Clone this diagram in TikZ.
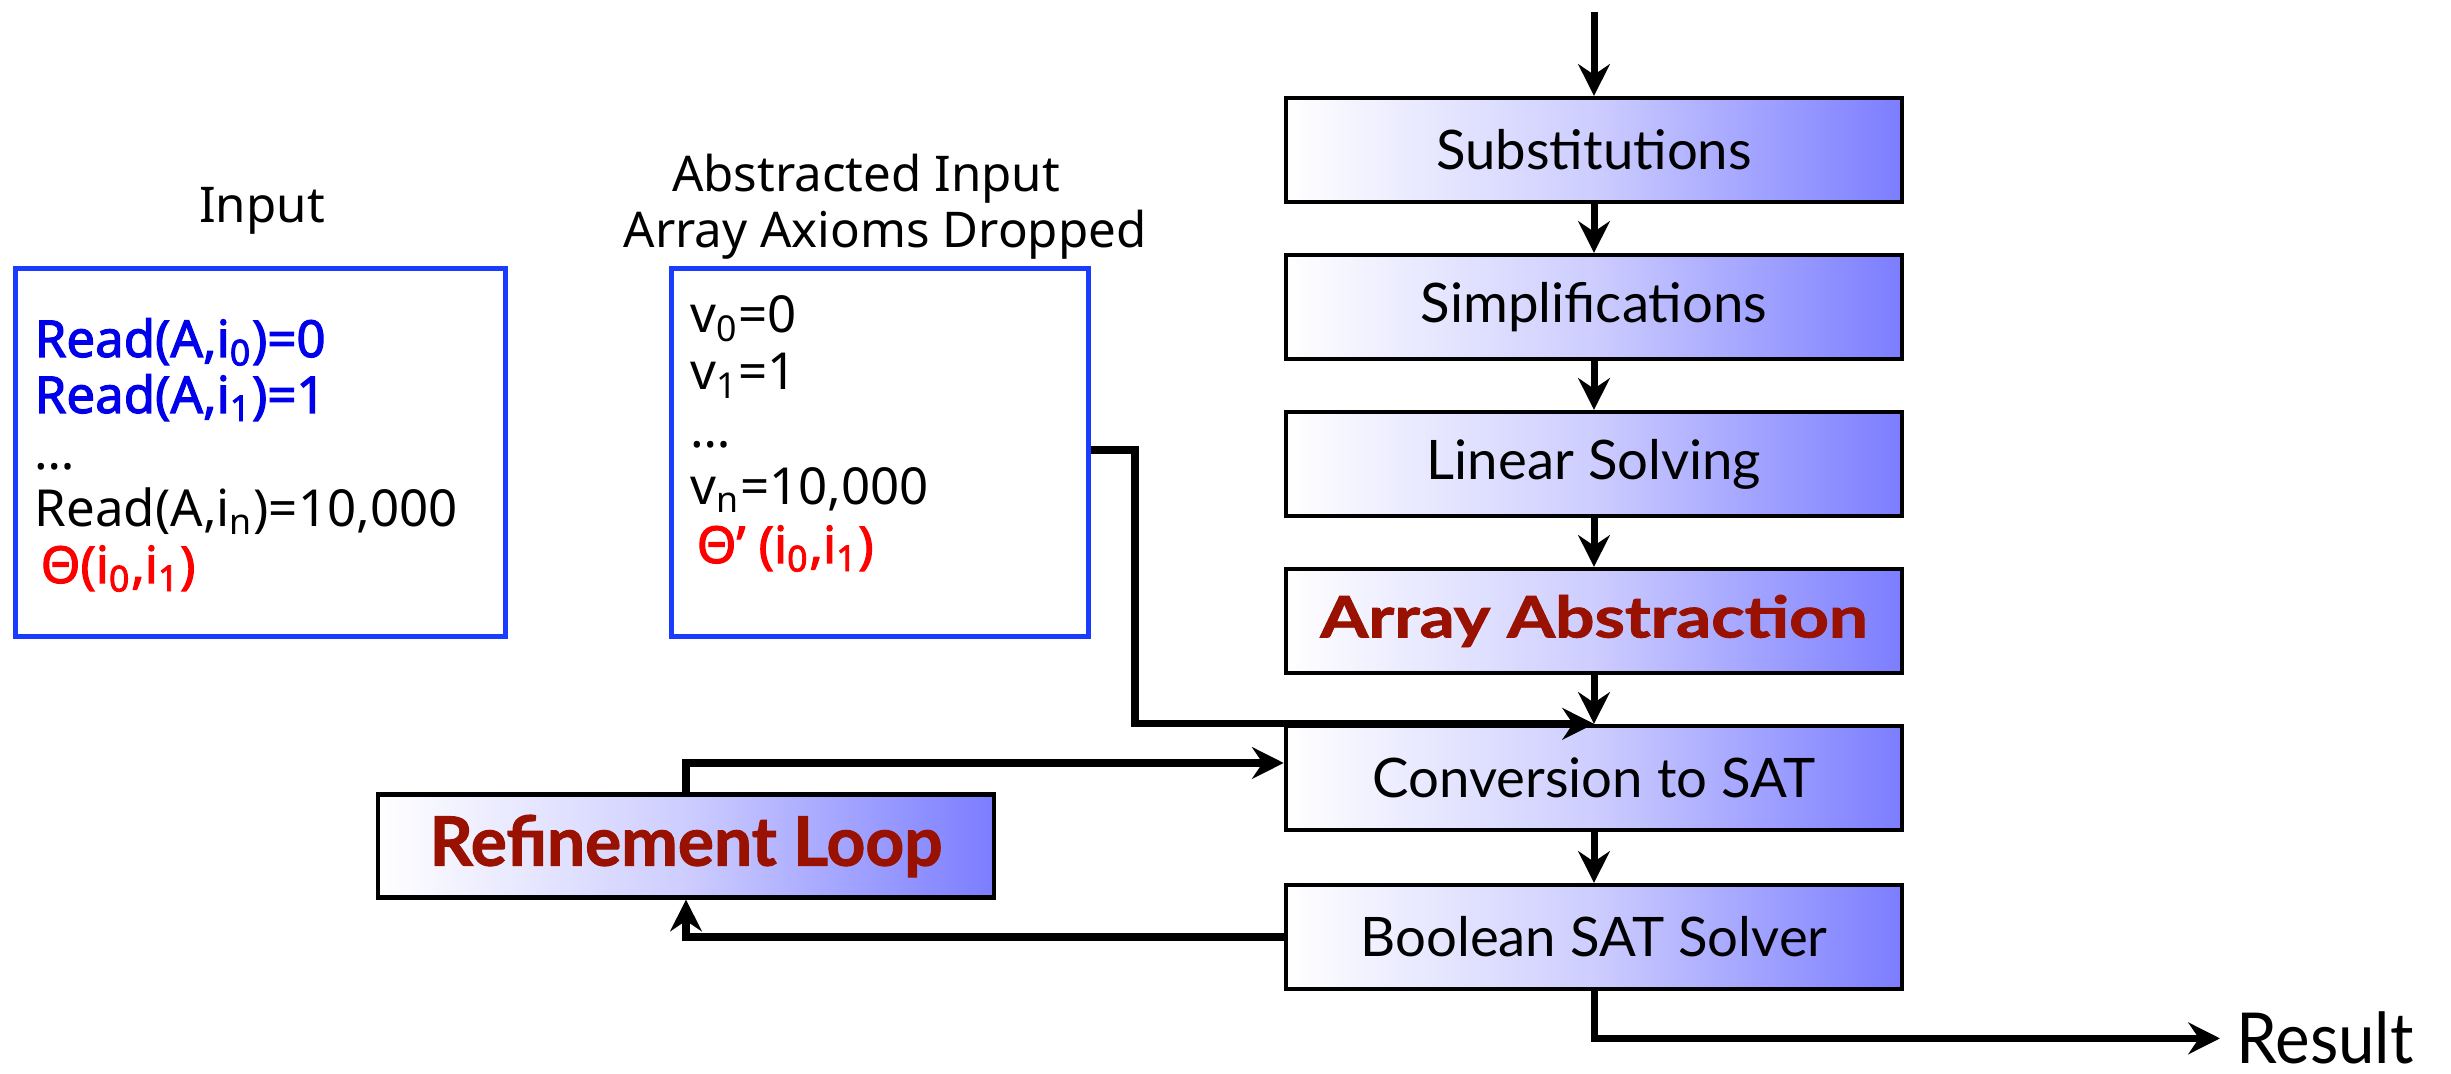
\documentclass[tikz,border=0pt]{standalone}
\usepackage{fontspec}
\setmainfont{Noto Sans}
\newfontfamily\notobold{Noto Sans}[FakeBold=2.2]
\newfontfamily\boxfont{Lato}
\newfontfamily\heavyfont{Lato}[BoldFeatures={FakeBold=1.4}]
\usetikzlibrary{arrows.meta}
\definecolor{boxblue}{RGB}{123,125,255}
\definecolor{boxmid}{RGB}{205,205,255}
\definecolor{darkred}{RGB}{153,17,0}
\definecolor{frameblue}{RGB}{25,60,255}
\definecolor{readblue}{RGB}{0,0,235}
\definecolor{thetared}{RGB}{255,0,0}
\begin{document}
\begin{tikzpicture}[x=0.01cm,y=-0.01cm,
  stage/.style={draw=black, line width=1.2pt, left color=white, right color=boxblue, middle color=boxmid,
    minimum width=6.16cm, minimum height=1.04cm, inner sep=0pt,
    font=\boxfont\fontsize{15.5}{18}\selectfont},
  hot/.style={text=darkred, font=\heavyfont\bfseries\fontsize{15.5}{18}\selectfont},
  frame/.style={draw=frameblue, line width=1.4pt, inner sep=0pt, fill=white},
  ln/.style={inner sep=0pt, anchor=base west, font=\fontsize{14.5}{16}\selectfont},
  bln/.style={ln, font=\notobold\fontsize{14.5}{16}\selectfont},
  lbl/.style={inner sep=0pt, anchor=base, font=\fontsize{14}{16}\selectfont},
  conn/.style={line width=2pt, -{Stealth[length=9pt,width=9pt,inset=3pt]}}
]
\useasboundingbox (0,0) rectangle (2451,1074);

% pipeline stages
\node[stage] (subst) at (1594,150) {Substitutions};
\node[stage] (simpl) at (1594,307) {Simplifications};
\node[stage] (lin)   at (1594,464) {Linear Solving};
\node[stage,hot] (arr) at (1594,621) {\scalebox{1.27}[1.05]{Array Abstraction}};
\node[stage] (conv)  at (1594,778) {Conversion to SAT};
\node[stage] (bool)  at (1594,937) {Boolean SAT Solver};
\node[stage,hot,minimum height=1.03cm] (ref) at (686,846) {\scalebox{1.24}[1.25]{Refinement Loop}};

% input boxes
\node[frame, minimum width=4.89cm, minimum height=3.67cm] (inbox) at (260.5,452.5) {};
\node[frame, minimum width=4.16cm, minimum height=3.67cm] (absbox) at (880,452.5) {};

\node[lbl] (inlbl) at (262,223) {Input};
\node[lbl] (abslbl1) at (866,192) {Abstracted Input};
\node[lbl] (abslbl2) at (885,248) {Array Axioms Dropped};

\node[bln, text=readblue] (r0) at (34,357) {Read(A,i\textsubscript{0})=0};
\node[bln, text=readblue] (r1) at (34,413) {Read(A,i\textsubscript{1})=1};
\node[ln] (rd) at (34,470) {…};
\node[ln] (rn) at (34,527) {Read(A,i\textsubscript{n})=10,000};
\node[bln, text=thetared] (th) at (40,583) {Θ(i\textsubscript{0},i\textsubscript{1})};

\node[ln] (v0) at (690,333) {v\textsubscript{0}=0};
\node[ln] (v1) at (690,390) {v\textsubscript{1}=1};
\node[ln] (vd) at (690,448) {…};
\node[ln] (vn) at (690,505) {v\textsubscript{n}=10,000};
\node[bln, text=thetared] (thp) at (696,563) {Θ’ (i\textsubscript{0},i\textsubscript{1})};

\node[inner xsep=4.5pt, inner ysep=0pt, anchor=base west, font=\boxfont\fontsize{20}{22}\selectfont] (res) at (2220,1064) {\scalebox{0.93}[1]{Result}};

% connectors
\coordinate (top) at (1594,12);
\coordinate (jog) at (1135,450);
\draw[conn] (top) -- (subst);
\draw[conn] (subst) -- (simpl);
\draw[conn] (simpl) -- (lin);
\draw[conn] (lin) -- (arr);
\draw[conn] (arr) -- (conv);
\draw[conn] (conv) -- (bool);
\draw[conn] (absbox.east |- jog) -- (jog) |- (conv.north);
\draw[conn] (ref.north) |- ([yshift=0.15cm]conv.west);
\draw[conn] (bool.west) -| (ref.south);
\draw[conn] (bool.south) |- (res.west);
\end{tikzpicture}
\end{document}
